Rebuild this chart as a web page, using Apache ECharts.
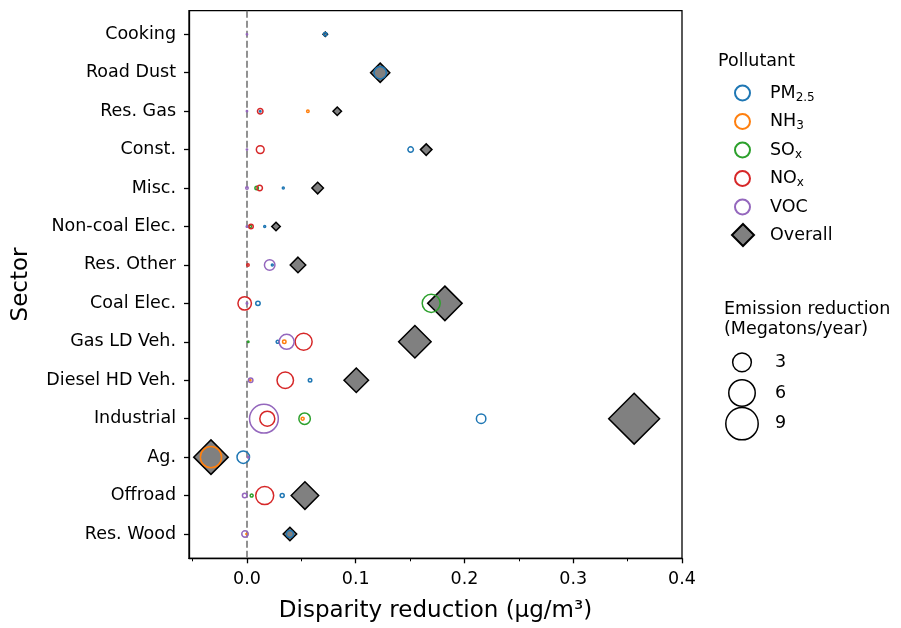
<!DOCTYPE html>
<html>
<head>
<meta charset="utf-8">
<script src="https://cdn.jsdelivr.net/npm/echarts@6/dist/echarts.min.js"></script>
<style>
  html, body { margin: 0; padding: 0; background: #fff; }
  #main { width: 901px; height: 628px; }
</style>
</head>
<body>
<div id="main"></div>
<script>
// sectors, top to bottom
const sectors = ['Cooking', 'Road Dust', 'Res. Gas', 'Const.', 'Misc.', 'Non-coal Elec.', 'Res. Other',
  'Coal Elec.', 'Gas LD Veh.', 'Diesel HD Veh.', 'Industrial', 'Ag.', 'Offroad', 'Res. Wood'];

// disparity reduction (ug/m3) and emission reduction (Mt/yr) per pollutant
const pm25X = [0.072, 0.1225, 0.0122, 0.1505, 0.0334, 0.0163, 0.0233, 0.0101, 0.0282, 0.058, 0.2153, -0.0034, 0.0324, 0.0395];
const pm25E = [0.1, 1.3, 0.02, 0.26, 0.034, 0.034, 0.034, 0.17, 0.077, 0.105, 0.77, 1.34, 0.137, 0.42];
const nh3X = [null, null, 0.056, null, null, null, null, null, 0.0343, 0.003, 0.0512, -0.0331, null, -0.0005];
const nh3E = [null, null, 0.054, null, null, null, null, null, 0.105, 0.02, 0.077, 3.85, null, 0.01];
const soxX = [null, null, null, null, 0.0089, 0.003, null, 0.1694, 0.0012, null, 0.053, null, 0.0043, null];
const soxE = [null, null, null, null, 0.105, 0.054, null, 2.78, 0.02, null, 1.13, null, 0.077, null];
const noxX = [null, null, 0.0122, 0.0122, 0.0117, 0.0037, 0.0009, -0.0021, 0.0521, 0.0352, 0.0187, null, 0.0163, null];
const noxE = [null, null, 0.26, 0.52, 0.26, 0.174, 0.054, 1.56, 2.48, 2.33, 1.93, null, 2.78, null];
const vocX = [0, null, 0, 0, 0, 0, 0.0209, 0, 0.0365, 0.0034, 0.0156, 0.0012, -0.0021, -0.0018];
const vocE = [0.015, null, 0.015, 0.015, 0.054, 0.02, 0.95, 0.02, 1.93, 0.174, 7.1, 0.02, 0.174, 0.36];
const overallX = [0.072, 0.1225, 0.083, 0.1648, 0.065, 0.0267, 0.0469, 0.182, 0.1544, 0.1005, 0.356, -0.0331, 0.0533, 0.0395];
const overallE = [0.09, 1.64, 0.32, 0.59, 0.59, 0.32, 1.07, 5.29, 4.69, 2.67, 11.5, 5.29, 3.36, 0.81];

const xLabelTicks = [0, 0.1, 0.2, 0.3, 0.4];
const xMinorTicks = [-0.05, 0.05, 0.15, 0.25, 0.35];
const sizeLegendValues = [3, 6, 9];

const FONT = 'DejaVu Sans';
const circleSize = v => 10.8 * Math.sqrt(v);
const diamondSize = v => 15 * Math.sqrt(v);

function points(xs, es) {
  const out = [];
  xs.forEach((x, i) => { if (x !== null) out.push([x, i, es[i]]); });
  return out;
}

const pollutants = [
  { name: 'PM2.5', color: '#1f77b4', xs: pm25X, es: pm25E },
  { name: 'NH3', color: '#ff7f0e', xs: nh3X, es: nh3E },
  { name: 'SOx', color: '#2ca02c', xs: soxX, es: soxE },
  { name: 'NOx', color: '#d62728', xs: noxX, es: noxE },
  { name: 'VOC', color: '#9467bd', xs: vocX, es: vocE }
];

const legendText = {
  'PM2.5': '{m|PM}{s|2.5}', 'NH3': '{m|NH}{s|3}', 'SOx': '{m|SO}{s|x}',
  'NOx': '{m|NO}{s|x}', 'VOC': '{m|VOC}', 'Overall': '{m|Overall}'
};
const legendRich = {
  m: { fontSize: 17.5, fontFamily: FONT, color: '#000' },
  s: { fontSize: 12, fontFamily: FONT, color: '#000', padding: [9, 0, 0, 0] }
};

const chart = echarts.init(document.getElementById('main'));

const series = [{
  name: 'Overall',
  type: 'scatter',
  symbol: 'diamond',
  data: points(overallX, overallE),
  symbolSize: val => diamondSize(val[2]),
  itemStyle: { color: '#808080', borderColor: '#000', borderWidth: 1.5, opacity: 1 },
  z: 2,
  markLine: {
    silent: true,
    symbol: 'none',
    label: { show: false },
    lineStyle: { color: '#777', type: [7, 3], width: 1.6 },
    data: [{ xAxis: 0 }],
    z: 1
  }
}];
pollutants.forEach(p => {
  series.push({
    name: p.name,
    type: 'scatter',
    symbol: 'circle',
    data: points(p.xs, p.es),
    symbolSize: val => circleSize(val[2]),
    itemStyle: { color: 'rgba(0,0,0,0)', borderColor: p.color, borderWidth: 1.5, opacity: 1 },
    z: 3
  });
});
// size legend
series.push({
  type: 'scatter',
  xAxisIndex: 2,
  yAxisIndex: 1,
  symbol: 'circle',
  data: sizeLegendValues.map((v, i) => [0, i, v]),
  symbolSize: val => circleSize(val[2]),
  itemStyle: { color: 'rgba(0,0,0,0)', borderColor: '#000', borderWidth: 1.5, opacity: 1 },
  silent: true
});

const option = {
  animation: false,
  backgroundColor: '#fff',
  title: [
    { text: 'Pollutant', left: 713, top: 47, textStyle: { fontFamily: FONT, fontSize: 17.5, fontWeight: 'normal', color: '#000' } },
    { text: 'Emission reduction\n(Megatons/year)', left: 719, top: 294,
      textStyle: { fontFamily: FONT, fontSize: 17.5, fontWeight: 'normal', color: '#000', lineHeight: 20 } }
  ],
  legend: [{
    orient: 'vertical',
    left: 729,
    top: 79,
    itemWidth: 15,
    itemHeight: 15,
    itemGap: 9,
    data: pollutants.map(p => p.name),
    formatter: name => legendText[name],
    textStyle: { rich: legendRich, padding: [0, 0, 0, 15] },
    selectedMode: false
  }, {
    orient: 'vertical',
    left: 726,
    top: 218,
    itemWidth: 22,
    itemHeight: 22,
    data: ['Overall'],
    formatter: name => legendText[name],
    textStyle: { rich: legendRich, padding: [0, 0, 0, 11] },
    selectedMode: false
  }],
  grid: [
    { left: 189, right: 219, top: 10.7, bottom: 69.7, show: true, borderColor: '#000', borderWidth: 1.3, backgroundColor: 'transparent' },
    { left: 722, width: 40, top: 347, height: 92 }
  ],
  xAxis: [{
    type: 'value',
    gridIndex: 0,
    min: -0.0533,
    max: 0.4,
    name: 'Disparity reduction (μg/m³)',
    nameLocation: 'middle',
    nameGap: 41,
    nameTextStyle: { fontFamily: FONT, fontSize: 23, color: '#000' },
    axisLine: { show: true, onZero: false, lineStyle: { color: '#000', width: 1.3 } },
    axisTick: { show: true, customValues: xLabelTicks, length: 5, lineStyle: { color: '#000', width: 1.3 } },
    axisLabel: { customValues: xLabelTicks, formatter: v => v.toFixed(1), fontFamily: FONT, fontSize: 17.5, color: '#000', margin: 12 },
    splitLine: { show: false }
  }, {
    type: 'value',
    gridIndex: 0,
    position: 'bottom',
    min: -0.0533,
    max: 0.4,
    axisLine: { show: false, onZero: false },
    axisTick: { show: true, customValues: xMinorTicks, length: 3, lineStyle: { color: '#000', width: 1 } },
    axisLabel: { show: false },
    splitLine: { show: false }
  }, {
    type: 'value',
    gridIndex: 1,
    min: -1,
    max: 1,
    show: false
  }],
  yAxis: [{
    type: 'value',
    gridIndex: 0,
    min: -0.614,
    max: 13.632,
    inverse: true,
    name: 'Sector',
    nameLocation: 'middle',
    nameGap: 156,
    nameTextStyle: { fontFamily: FONT, fontSize: 23, color: '#000' },
    axisLine: { show: true, onZero: false, lineStyle: { color: '#000', width: 1.3 } },
    axisTick: { show: true, customValues: sectors.map((s, i) => i), length: 5, lineStyle: { color: '#000', width: 1.3 } },
    axisLabel: { customValues: sectors.map((s, i) => i), formatter: v => sectors[Math.round(v)], fontFamily: FONT, fontSize: 17.5, color: '#000', margin: 13 },
    splitLine: { show: false }
  }, {
    type: 'category',
    gridIndex: 1,
    position: 'right',
    inverse: true,
    data: sizeLegendValues.map(String),
    axisLine: { show: false },
    axisTick: { show: false },
    axisLabel: { fontFamily: FONT, fontSize: 17.5, color: '#000', margin: 13 },
    splitLine: { show: false }
  }],
  series: series
};

chart.setOption(option);
</script>
</body>
</html>
